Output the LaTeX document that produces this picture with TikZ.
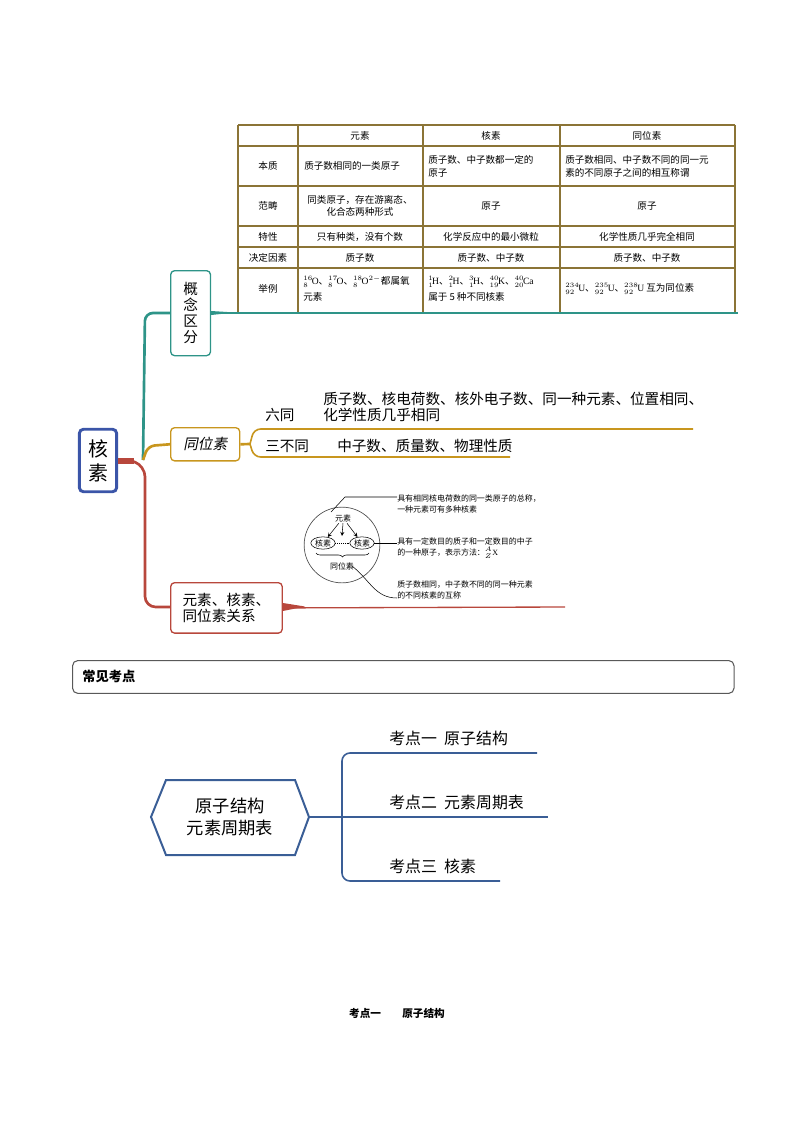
\documentclass[tikz,border=0pt]{standalone}
\usepackage{fontspec}
\setmainfont{Liberation Serif}
\newfontfamily\cjk{Noto Sans CJK SC}
\newfontfamily\cjki{Noto Sans CJK SC}[FakeSlant=0.2]
\usetikzlibrary{shapes.geometric,decorations.pathreplacing}
\definecolor{tb}{HTML}{8B7436}
\definecolor{teal1}{HTML}{2E9488}
\definecolor{gold1}{HTML}{C8961E}
\definecolor{red1}{HTML}{B8473C}
\definecolor{blue1}{HTML}{3B55A8}
\definecolor{blue2}{HTML}{3A5E96}
\newcommand{\iso}[3]{\ensuremath{{}^{\scriptscriptstyle #1}_{\scriptscriptstyle #2}\mkern-2mu\mathrm{#3}}}
\begin{document}
\begin{tikzpicture}[x={(0.02646cm,0)},y={(0,-0.02646cm)},
  tc/.style={font=\cjk\fontsize{7.2}{9}\selectfont,align=center,inner sep=0},
  tl/.style={font=\cjk\fontsize{7.2}{10}\selectfont,align=left,anchor=west,inner sep=0},
  mm/.style={font=\cjk\fontsize{11}{12}\selectfont,inner sep=0},
  sm/.style={font=\cjk\fontsize{6}{8}\selectfont,inner sep=0,align=left,anchor=west}]
\useasboundingbox (0,0) rectangle (794,1123);
% table
\foreach \y in {125,146,186,226,247,268} \draw[tb,line width=0.8pt] (238,\y)--(735,\y);
\foreach \x in {238,298,423,560,735} \draw[tb,line width=0.8pt] (\x,125)--(\x,312);
\node[tc] (h1) at (360,136) {元素};
\node[tc] at (491,136) {核素};
\node[tc] at (647,136) {同位素};
\node[tc] at (268,166) {本质};
\node[tl] at (304,166) {质子数相同的一类原子};
\node[tl] at (428,166) {质子数、中子数都一定的\\原子};
\node[tl] at (565,166) {质子数相同、中子数不同的同一元\\素的不同原子之间的相互称谓};
\node[tc] at (268,206) {范畴};
\node[tc] at (360,206) {同类原子，存在游离态、\\化合态两种形式};
\node[tc] at (491,206) {原子};
\node[tc] at (647,206) {原子};
\node[tc] at (268,236.5) {特性};
\node[tc] at (360,236.5) {只有种类，没有个数};
\node[tc] at (491,236.5) {化学反应中的最小微粒};
\node[tc] at (647,236.5) {化学性质几乎完全相同};
\node[tc] at (268,257.5) {决定因素};
\node[tc] at (360,257.5) {质子数};
\node[tc] at (491,257.5) {质子数、中子数};
\node[tc] at (647,257.5) {质子数、中子数};
\node[tc] at (268,289) {举例};
\node[tl,font=\cjk\fontsize{7.2}{12}\selectfont] at (303,289) {\iso{16}{8}{O}、\iso{17}{8}{O}、\iso{18}{8}{O}$^{2-}$都属氧\\元素};
\node[tl,font=\cjk\fontsize{7.2}{12}\selectfont] at (428,289) {\iso{1}{1}{H}、\iso{2}{1}{H}、\iso{3}{1}{H}、\iso{40}{19}{K}、\iso{40}{20}{Ca}\\属于 5 种不同核素};
\node[tl] at (565,289) {\iso{234}{92}{U}、\iso{235}{92}{U}、\iso{238}{92}{U} 互为同位素};
% root
\node[draw=blue1,line width=2.2pt,rounded corners=3pt,minimum width=28pt,minimum height=47pt,
  font=\cjk\fontsize{15}{18}\selectfont,align=center,fill=white,inner sep=0] (root) at (98,460.5) {核\\素};
% branch boxes
\node[draw=teal1,line width=1pt,rounded corners=3pt,minimum width=30pt,minimum height=64pt,
  mm,align=center,anchor=north west,inner sep=0] (b1) at (170,270) {概\\念\\区\\分};
\node[draw=gold1,line width=1pt,rounded corners=3pt,minimum width=52pt,minimum height=25pt,
  anchor=north west,font=\cjki\fontsize{11}{12}\selectfont,inner sep=0] (b2) at (170,427) {同位素};
\node[draw=red1,line width=1pt,rounded corners=3pt,minimum width=84pt,minimum height=38pt,
  mm,align=left,anchor=north west] (b3) at (170,582) {元素、核素、\\同位素关系};
\coordinate (j) at (143,460);
\draw[teal1,line width=2pt,rounded corners=6pt] (j) -- (145,313) -- (b1.west|-0,313);
\draw[gold1,line width=2pt,rounded corners=5pt] (j) -- (148,446) -- (b2.west);
\draw[red1,line width=4pt] (root.east|-0,461) -- (134,461);
\draw[red1,line width=2pt,rounded corners=8pt] (132,461) -- (145,466) -- (145,607) -- (b3.west|-0,607);
\coordinate (e1) at (738,313);
\draw[teal1,line width=1pt] (b1.east|-0,313) -- (e1);
\fill[teal1] (b1.east|-0,311) -- (235,312.5) -- (b1.east|-0,315)--cycle;
% gold forks
\coordinate (e2) at (693,429);
\coordinate (e3) at (510,457);
\draw[gold1,line width=2pt] (b2.east) -- (250,444);
\draw[gold1,line width=1.2pt,rounded corners=5pt] (250,444) -- (254,429) -- (e2);
\draw[gold1,line width=1.2pt,rounded corners=5pt] (250,444) -- (254,457) -- (e3);
\node[mm,anchor=west] (l1) at (265,415) {六同};
\node[mm,anchor=west] (l2) at (265,446) {三不同};
\node[mm,anchor=west,align=left] (t1) at (323,407) {质子数、核电荷数、核外电子数、同一种元素、位置相同、\\化学性质几乎相同};
\node[mm,anchor=west] (t2) at (337,446) {中子数、质量数、物理性质};
% red line
\coordinate (e4) at (565,607);
\draw[red1,line width=1pt] (b3.east) -- (e4);
\fill[red1] (b3.east|-0,603) -- (305,606.5) -- (b3.east|-0,611)--cycle;
% relation diagram
\node[draw=gray!60!black,circle,minimum size=76pt*0.75,line width=0.5pt] (circ) at (342,545) {};
\node[font=\cjk\fontsize{6}{7}\selectfont,inner sep=1pt] (ys) at (343,518) {元素};
\node[draw,ellipse,font=\cjk\fontsize{6}{7}\selectfont,inner sep=0.5pt,line width=0.4pt] (h1n) at (323,543) {核素};
\node[draw,ellipse,font=\cjk\fontsize{6}{7}\selectfont,inner sep=0.5pt,line width=0.4pt] (h2n) at (362,543) {核素};
\node[font=\cjk\fontsize{6}{7}\selectfont,inner sep=0] (tw) at (342,566) {同位素};
\draw[-stealth,line width=0.4pt] (ys) -- (h1n);
\draw[-stealth,line width=0.4pt] (ys) -- (h2n);
\draw[densely dotted,line width=0.4pt] (h1n) -- (h2n);
\draw[-stealth,line width=0.4pt] (ys.south) -- (342,536);
\draw[decorate,decoration={brace,mirror,amplitude=3pt},line width=0.4pt] (316,553) -- (369,553);
\node[sm] (r1) at (397,504) {具有相同核电荷数的同一类原子的总称，\\一种元素可有多种核素};
\node[sm] (r2) at (397,548) {具有一定数目的质子和一定数目的中子\\的一种原子，表示方法：${}^{A}_{Z}\mathrm{X}$};
\node[sm] (r3) at (397,590) {质子数相同，中子数不同的同一种元素\\的不同核素的互称};
\draw[line width=0.4pt] (331,512) -- (345,497) -- (r1.west|-0,497);
\draw[line width=0.4pt] (h2n.east) -- (r2.west|-0,543);
\draw[line width=0.4pt] (352,566) .. controls (370,580) and (375,598) .. (r3.west|-0,598);
% 常见考点
\node[draw=gray!70!black,line width=0.8pt,rounded corners=4pt,minimum width=664*0.75pt,minimum height=33*0.75pt,anchor=north west] (kd) at (72,660) {};
\node[font=\cjk\bfseries\fontsize{10}{12}\selectfont,anchor=west,inner sep=0] at (82,676.5) {常见考点};
% hexagon
\draw[blue2,line width=1.5pt] (151,817)--(166,780)--(295,780)--(309,817)--(295,855)--(166,855)--cycle;
\node[font=\cjk\fontsize{13}{16}\selectfont,align=center] (hex) at (230,817) {原子结构\\元素周期表};
\coordinate (hx) at (309,817);
\coordinate (k1) at (537,753);
\coordinate (k2) at (548,817);
\coordinate (k3) at (500,881);
\draw[blue2,line width=1.4pt] (hx) -- (342,817);
\draw[blue2,line width=1.2pt,rounded corners=6pt] (k1) -- (342,753) -- (342,881) -- (k3);
\draw[blue2,line width=1.2pt] (342,817) -- (k2);
\node[mm,anchor=west,font=\cjk\fontsize{12}{14}\selectfont] at (389,738) {考点一\ \ 原子结构};
\node[mm,anchor=west,font=\cjk\fontsize{12}{14}\selectfont] at (389,802) {考点二\ \ 元素周期表};
\node[mm,anchor=west,font=\cjk\fontsize{12}{14}\selectfont] at (389,866) {考点三\ \ 核素};
\node[font=\cjk\bfseries\fontsize{8}{10}\selectfont,inner sep=0] at (397,1013) {考点一\qquad 原子结构};
\end{tikzpicture}
\end{document}
